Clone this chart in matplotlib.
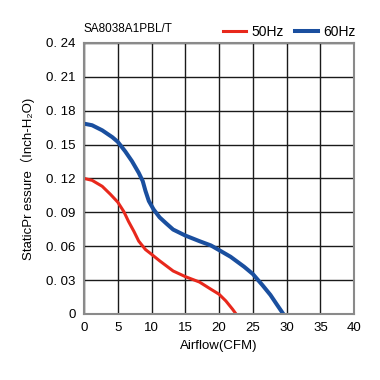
import matplotlib.pyplot as plt

plt.rcParams['font.family'] = ['Liberation Sans', 'Noto Sans CJK SC', 'DejaVu Sans']

# 50Hz curve
x_50 = [0, 1.2, 2.7, 3.9, 5, 5.9, 6.6, 7.4, 8.1, 9.1, 10, 11.2, 12.2, 13.2, 15, 17.1,
        18.8, 20, 21, 22, 22.5]
y_50 = [0.12, 0.1183, 0.113, 0.106, 0.099, 0.0906, 0.0818, 0.073, 0.0645, 0.057, 0.0528,
        0.047, 0.0425, 0.038, 0.033, 0.0282, 0.0218, 0.0174, 0.0115, 0.0041, 0]

# 60Hz curve
x_60 = [0, 1.2, 2.7, 4.2, 5, 6.1, 7.1, 8.1, 8.7, 9.1, 9.6, 10.3, 11.2, 12.2, 13.2, 15,
        17.1, 18.8, 20, 21.7, 23.7, 25, 26.4, 27.6, 28.6, 29.5]
y_60 = [0.1685, 0.1671, 0.1626, 0.1565, 0.1524, 0.144, 0.1353, 0.125, 0.1176, 0.109, 0.100,
        0.0926, 0.0855, 0.080, 0.0747, 0.0694, 0.0644, 0.0606, 0.0565, 0.0506, 0.0418,
        0.0353, 0.0256, 0.0168, 0.0079, 0]

x_ticks = [0, 5, 10, 15, 20, 25, 30, 35, 40]
y_ticks = [0, 0.03, 0.06, 0.09, 0.12, 0.15, 0.18, 0.21, 0.24]
y_labels = ['0', '0. 03', '0. 06', '0. 09', '0. 12', '0. 15', '0. 18', '0. 21', '0. 24']

fig = plt.figure(figsize=(3.8, 3.8), dpi=100)
ax = fig.add_axes([0.221, 0.174, 0.711, 0.713])

ax.plot(x_50, y_50, color='#e8281c', lw=2.2, label='50Hz', solid_joinstyle='round')
ax.plot(x_60, y_60, color='#1a4f9f', lw=2.9, label='60Hz', solid_joinstyle='round')

ax.set_xlim(0, 40)
ax.set_ylim(0, 0.24)
ax.set_xticks(x_ticks)
ax.set_yticks(y_ticks)
ax.set_yticklabels(y_labels)
ax.tick_params(length=0, labelsize=9.5, pad=6)
ax.grid(True, color='#1a1a1a', lw=1.0)
for s in ax.spines.values():
    s.set_color('#8a8a8a')
    s.set_linewidth(1.5)

ax.set_xlabel('Airflow(CFM)', fontsize=9.5, labelpad=4)
ax.set_ylabel('StaticPr essure（Inch-H₂O)', fontsize=9.5, labelpad=8)
ax.set_title('SA8038A1PBL/T', fontsize=8.5, loc='left', pad=8)

ax.legend(loc='lower right', bbox_to_anchor=(1.03, 0.99), ncol=2, frameon=False,
          fontsize=10, handlelength=1.65, columnspacing=0.85, handletextpad=0.35,
          borderaxespad=0.1)

fig.savefig('out.png', dpi=100)
